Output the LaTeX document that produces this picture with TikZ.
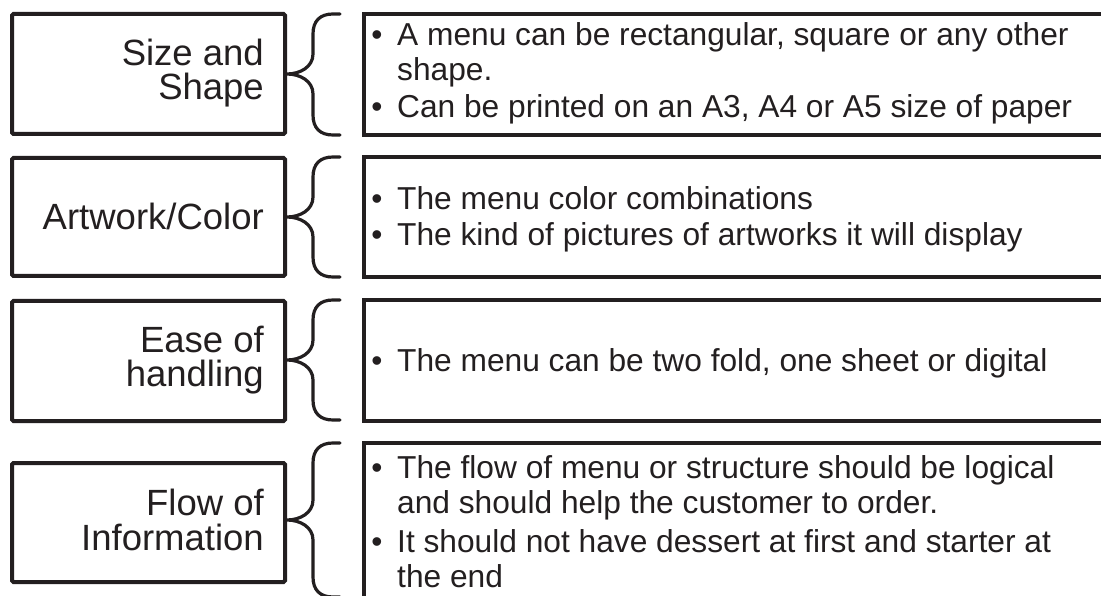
\documentclass[tikz,border=0pt]{standalone}
\usepackage{fontspec}
\setmainfont{Liberation Sans}
\definecolor{ink}{HTML}{231F20}
\newcommand\mybrace[3]{%
  \draw[brace] (340,#1) -- (333,#1) .. controls (320,#1) and (313,{#1+7}) .. (313,{#1+20})
    -- (313,{#2-20}) .. controls (313,{#2-7}) and (300,#2) .. (287,#2)
    .. controls (300,#2) and (313,{#2+7}) .. (313,{#2+20})
    -- (313,{#3-20}) .. controls (313,{#3-7}) and (320,#3) .. (333,#3) -- (340,#3);}
\begin{document}
\begin{tikzpicture}[x=1pt,y=-1pt,
  lbox/.style={draw=ink, line width=4pt, rounded corners=1.5pt},
  brace/.style={draw=ink, line width=3.2pt, line cap=round},
  rbox/.style={draw=ink, line width=4.5pt},
  ltext/.style={anchor=base east, inner sep=0pt, text=ink, font=\fontsize{36.5}{36}\selectfont},
  rtext/.style={anchor=base west, inner sep=0pt, text=ink, font=\fontsize{31.7}{35}\selectfont},
  bul/.style={anchor=base, inner sep=0pt, text=ink, font=\fontsize{31.7}{35}\selectfont}]
\useasboundingbox (0,0) rectangle (1101,596);
\fill[white] (0,0) rectangle (1101,596);
\clip (0,0) rectangle (1101,596);

% left boxes
\draw[lbox] (12,14) rectangle (285,134);
\draw[lbox] (12,158) rectangle (285,276);
\draw[lbox] (12,301) rectangle (285,421);
\draw[lbox] (12,463) rectangle (285,582);

% right boxes
\draw[rbox] (364,14) rectangle (1130,135);
\draw[rbox] (364,157) rectangle (1130,277);
\draw[rbox] (364,300) rectangle (1130,421);
\draw[rbox] (364,443) rectangle (1130,640);

% braces
\mybrace{14}{74}{135}
\mybrace{157}{217}{277}
\mybrace{300}{360}{420}
\mybrace{443}{520}{597}

% left labels
\node[ltext] (l1a) at (264,66) {Size and};
\node[ltext] (l1b) at (264,100) {Shape};
\node[ltext] (l2a) at (264,230) {Artwork/Color};
\node[ltext] (l3a) at (264,352) {Ease of};
\node[ltext] (l3b) at (264,386) {handling};
\node[ltext] (l4a) at (264,515) {Flow of};
\node[ltext] (l4b) at (264,550) {Information};

% right texts
\node[bul] (b1a) at (377,46) {•};
\node[rtext] (t1a) at (397,46) {A menu can be rectangular, square or any other};
\node[rtext] (t1b) at (397,81) {shape.};
\node[bul] (b1b) at (377,118) {•};
\node[rtext] (t1c) at (397,118) {Can be printed on an A3, A4 or A5 size of paper};

\node[bul] (b2a) at (377,210) {•};
\node[rtext] (t2a) at (397,210) {The menu color combinations};
\node[bul] (b2b) at (377,246) {•};
\node[rtext] (t2b) at (397,246) {The kind of pictures of artworks it will display};

\node[bul] (b3a) at (377,371) {•};
\node[rtext] (t3a) at (397,371) {The menu can be two fold, one sheet or digital};

\node[bul] (b4a) at (377,478) {•};
\node[rtext] (t4a) at (397,478) {The flow of menu or structure should be logical};
\node[rtext] (t4b) at (397,513) {and should help the customer to order.};
\node[bul] (b4b) at (377,552) {•};
\node[rtext] (t4c) at (397,552) {It should not have dessert at first and starter at};
\node[rtext] (t4d) at (397,587) {the end};
\end{tikzpicture}
\end{document}
